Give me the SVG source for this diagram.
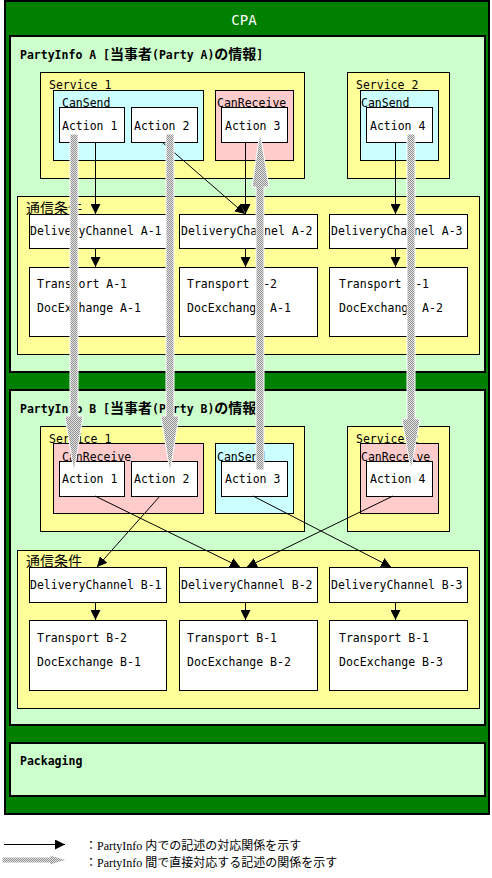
<svg xmlns="http://www.w3.org/2000/svg" width="492" height="878" viewBox="0 0 492 878">
<style>
.t{font-family:"DejaVu Sans Mono","Noto Sans CJK JP",monospace;font-size:11.5px;fill:#000}
.b{font-weight:bold}
.j{font-size:14px}
.lg{font-family:"Liberation Serif","Noto Sans CJK JP",serif;font-size:12px;fill:#000}
.box{stroke:#000;stroke-width:1}
.pi{fill:#CCFFCC;stroke:#000;stroke-width:2}
.sv{fill:#FFFF99}
.cs{fill:#CCFFFF}
.cr{fill:#FFCCCC}
.w{fill:#FFFFFF}
.ln{stroke:#000;stroke-width:1;fill:none;marker-end:url(#ah)}
.gr{fill:url(#chk);stroke:#FFFFFF;stroke-width:1}
</style>
<defs>
<marker id="ah" markerUnits="userSpaceOnUse" markerWidth="10" markerHeight="10" refX="10" refY="5" orient="auto" viewBox="0 0 10 10">
<path d="M0,0 L10,5 L0,10 Z" fill="#000"/>
</marker>
<pattern id="chk" patternUnits="userSpaceOnUse" width="2" height="2">
<rect width="2" height="2" fill="#E4E4E4"/>
<rect width="1" height="1" fill="#909090"/>
<rect x="1" y="1" width="1" height="1" fill="#909090"/>
</pattern>
</defs>

<g id="cpa">
<rect x="5" y="1" width="484" height="813" fill="#008000" stroke="#000" stroke-width="2"/>
<text class="t" x="244" y="25" text-anchor="middle" style="fill:#fff;font-size:14px">CPA</text>
</g>

<g id="partyinfoA">
<rect class="pi" x="10" y="36" width="475" height="336"/>
<text class="t b" x="20" y="59">PartyInfo A [<tspan class="j">当事者</tspan>(Party A)<tspan class="j">の情報</tspan>]</text>
</g>
<g id="serviceA1">
<rect class="box sv" x="40.5" y="72.5" width="264" height="106"/>
<text class="t" x="49" y="89">Service 1</text>
</g>
<g id="cansendA1">
<rect class="box cs" x="53.5" y="90.5" width="150" height="70"/>
<text class="t" x="62" y="107">CanSend</text>
</g>
<g id="actionA1">
<rect class="box w" x="59.5" y="107.5" width="65" height="35"/>
<text class="t" x="62" y="130">Action 1</text>
</g>
<g id="actionA2">
<rect class="box w" x="131.5" y="107.5" width="66" height="35"/>
<text class="t" x="134" y="130">Action 2</text>
</g>
<g id="canreceiveA1">
<rect class="box cr" x="215.5" y="90.5" width="78" height="70"/>
<text class="t" x="217" y="107">CanReceive</text>
</g>
<g id="actionA3">
<rect class="box w" x="221.5" y="107.5" width="66" height="35"/>
<text class="t" x="225" y="130">Action 3</text>
</g>
<g id="serviceA2">
<rect class="box sv" x="347.5" y="72.5" width="102" height="106"/>
<text class="t" x="356" y="89">Service 2</text>
</g>
<g id="cansendA2">
<rect class="box cs" x="360.5" y="90.5" width="78" height="70"/>
<text class="t" x="361" y="107">CanSend</text>
</g>
<g id="actionA4">
<rect class="box w" x="366.5" y="107.5" width="66" height="35"/>
<text class="t" x="370" y="130">Action 4</text>
</g>
<g id="commA">
<rect class="box sv" x="17.5" y="196.5" width="462" height="158"/>
<text class="t j" x="26" y="213">通信条件</text>
</g>
<g id="dcA1">
<rect class="box w" x="29.5" y="214.5" width="137" height="34"/>
<text class="t" x="30" y="235">DeliveryChannel A-1</text>
</g>
<g id="dcA2">
<rect class="box w" x="179.5" y="214.5" width="138" height="34"/>
<text class="t" x="181" y="235">DeliveryChannel A-2</text>
</g>
<g id="dcA3">
<rect class="box w" x="329.5" y="214.5" width="138" height="34"/>
<text class="t" x="331" y="235">DeliveryChannel A-3</text>
</g>
<g id="trA1">
<rect class="box w" x="29.5" y="267.5" width="137" height="69"/>
<text class="t" x="37" y="288">Transport A-1</text>
<text class="t" x="37" y="312">DocExchange A-1</text>
</g>
<g id="trA2">
<rect class="box w" x="179.5" y="267.5" width="138" height="69"/>
<text class="t" x="187" y="288">Transport A-2</text>
<text class="t" x="187" y="312">DocExchange A-1</text>
</g>
<g id="trA3">
<rect class="box w" x="329.5" y="267.5" width="138" height="69"/>
<text class="t" x="339" y="288">Transport A-1</text>
<text class="t" x="339" y="312">DocExchange A-2</text>
</g>

<g id="partyinfoB">
<rect class="pi" x="10" y="390" width="475" height="335"/>
<text class="t b" x="20" y="413">PartyInfo B [<tspan class="j">当事者</tspan>(Party B)<tspan class="j">の情報</tspan>]</text>
</g>
<g id="serviceB1">
<rect class="box sv" x="40.5" y="426.5" width="264" height="105"/>
<text class="t" x="49" y="443">Service 1</text>
</g>
<g id="canreceiveB1">
<rect class="box cr" x="53.5" y="443.5" width="150" height="70"/>
<text class="t" x="62" y="461">CanReceive</text>
</g>
<g id="actionB1">
<rect class="box w" x="59.5" y="461.5" width="65" height="35"/>
<text class="t" x="62" y="483">Action 1</text>
</g>
<g id="actionB2">
<rect class="box w" x="131.5" y="461.5" width="66" height="35"/>
<text class="t" x="134" y="483">Action 2</text>
</g>
<g id="cansendB1">
<rect class="box cs" x="215.5" y="443.5" width="78" height="70"/>
<text class="t" x="217" y="461">CanSend</text>
</g>
<g id="actionB3">
<rect class="box w" x="221.5" y="461.5" width="66" height="35"/>
<text class="t" x="225" y="483">Action 3</text>
</g>
<g id="serviceB2">
<rect class="box sv" x="347.5" y="426.5" width="102" height="105"/>
<text class="t" x="356" y="443">Service 2</text>
</g>
<g id="canreceiveB2">
<rect class="box cr" x="360.5" y="443.5" width="78" height="70"/>
<text class="t" x="361" y="461">CanReceive</text>
</g>
<g id="actionB4">
<rect class="box w" x="366.5" y="461.5" width="66" height="35"/>
<text class="t" x="370" y="483">Action 4</text>
</g>
<g id="commB">
<rect class="box sv" x="17.5" y="550.5" width="462" height="158"/>
<text class="t j" x="26" y="566">通信条件</text>
</g>
<g id="dcB1">
<rect class="box w" x="29.5" y="567.5" width="137" height="35"/>
<text class="t" x="30" y="589">DeliveryChannel B-1</text>
</g>
<g id="dcB2">
<rect class="box w" x="179.5" y="567.5" width="138" height="35"/>
<text class="t" x="181" y="589">DeliveryChannel B-2</text>
</g>
<g id="dcB3">
<rect class="box w" x="329.5" y="567.5" width="138" height="35"/>
<text class="t" x="331" y="589">DeliveryChannel B-3</text>
</g>
<g id="trB1">
<rect class="box w" x="29.5" y="620.5" width="137" height="70"/>
<text class="t" x="37" y="642">Transport B-2</text>
<text class="t" x="37" y="666">DocExchange B-1</text>
</g>
<g id="trB2">
<rect class="box w" x="179.5" y="620.5" width="138" height="70"/>
<text class="t" x="187" y="642">Transport B-1</text>
<text class="t" x="187" y="666">DocExchange B-2</text>
</g>
<g id="trB3">
<rect class="box w" x="329.5" y="620.5" width="138" height="70"/>
<text class="t" x="339" y="642">Transport B-1</text>
<text class="t" x="339" y="666">DocExchange B-3</text>
</g>

<g id="packaging">
<rect class="pi" x="10" y="743" width="475" height="53"/>
<text class="t b" x="20" y="765">Packaging</text>
</g>

<g id="connectors">
<path class="ln" d="M95.5,142 V214"/>
<path class="ln" d="M162,142 L245,214"/>
<path class="ln" d="M245.5,142 V214"/>
<path class="ln" d="M395.5,142 V214"/>
<path class="ln" d="M95.5,248 V267"/>
<path class="ln" d="M245.5,248 V267"/>
<path class="ln" d="M395.5,248 V267"/>
<path class="ln" d="M95,496 L240,567"/>
<path class="ln" d="M160,496 L97,567"/>
<path class="ln" d="M253,496 L391,567"/>
<path class="ln" d="M393,496 L247,567"/>
<path class="ln" d="M95.5,602 V620"/>
<path class="ln" d="M245.5,602 V620"/>
<path class="ln" d="M395.5,602 V620"/>
<path class="gr" d="M70,134 H78 V416 H83 L74,472 L65,416 H70 Z"/>
<path class="gr" d="M166,134 H174 V416 H179 L170,472 L161,416 H166 Z"/>
<path class="gr" d="M407,134 H415 V419 H420 L411,470 L402,419 H407 Z"/>
<path class="gr" d="M256,470 V187 H252 L260,132 L269,187 H264 V470 Z"/>
</g>

<g id="legend">
<path class="ln" d="M4,844.5 H65"/>
<text class="lg" x="85" y="850">：PartyInfo 内での記述の対応関係を示す</text>
<path class="gr" d="M2,857 H50 V855 L67,860 L50,865 V863 H2 Z"/>
<text class="lg" x="85" y="867">：PartyInfo 間で直接対応する記述の関係を示す</text>
</g>
</svg>
